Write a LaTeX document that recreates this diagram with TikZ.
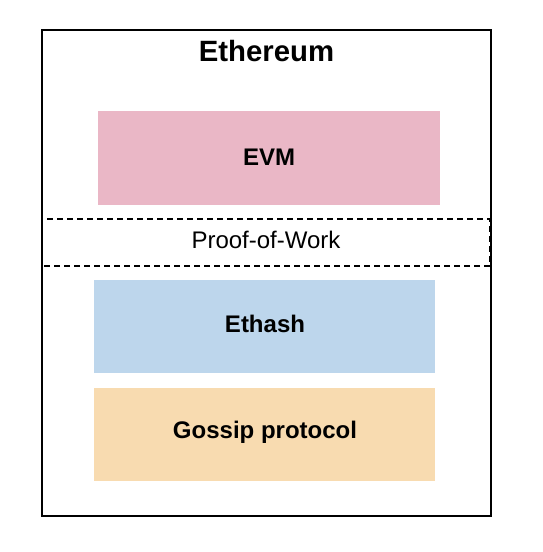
\documentclass[tikz,border=0pt]{standalone}
\usepackage{fontspec}
\setmainfont{Liberation Sans}
\definecolor{evmc}{HTML}{EAB7C6}
\definecolor{ethc}{HTML}{BDD6EC}
\definecolor{gosc}{HTML}{F8DBB0}
\begin{document}
\begin{tikzpicture}[x=0.75pt,y=-0.75pt,
  layer/.style={draw=none,inner sep=0pt,font=\fontsize{18}{20}\selectfont\bfseries},
  lbl/.style={inner sep=0pt}]
\useasboundingbox (0,0) rectangle (542,552);
\draw[line width=1.5pt] (41.5,30.5) rectangle (490.5,515.5);
\node[lbl,font=\fontsize{22}{24}\selectfont\bfseries] (title) at (266.5,51) {Ethereum};
\fill[evmc] (98,111) rectangle (440,205);
\node[layer] (evm) at (269,157) {EVM};
\draw[line width=1.5pt,dash pattern=on 4.5pt off 3pt] (41.5,218.5) rectangle (489.5,266);
\node[lbl,font=\fontsize{18}{20}\selectfont] (pow) at (266,240) {Proof-of-Work};
\fill[ethc] (94,280) rectangle (435,373);
\node[layer] (ethash) at (265,324) {Ethash};
\fill[gosc] (94,388) rectangle (435,481);
\node[layer] (gossip) at (265,432) {Gossip protocol};
\end{tikzpicture}
\end{document}
